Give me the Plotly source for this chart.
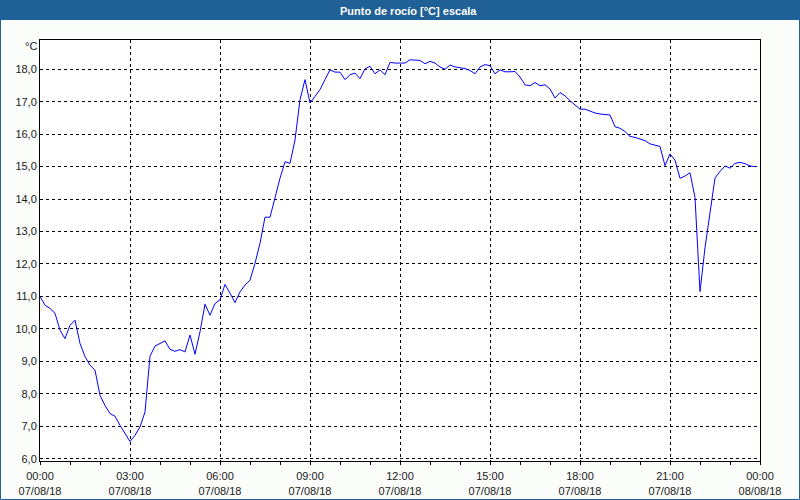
import pandas as pd
import plotly.graph_objects as go

# ---- data -------------------------------------------------------------
start_time = "2018-08-07 00:00"
sample_interval = "10min"
x_range = ["2018-08-07 00:00", "2018-08-08 00:00"]

dew_point = [
    11.00, 10.73, 10.63, 10.48, 9.96, 9.70, 10.11, 10.27, 9.55, 9.15,
    8.88, 8.73, 7.95, 7.64, 7.39, 7.31, 7.03, 6.77, 6.53, 6.72,
    6.98, 7.44, 9.16, 9.47, 9.55, 9.63, 9.37, 9.31, 9.36, 9.29,
    9.81, 9.22, 9.91, 10.76, 10.42, 10.78, 10.90, 11.37, 11.10, 10.81,
    11.14, 11.35, 11.50, 12.02, 12.64, 13.44, 13.44, 14.07, 14.64, 15.15,
    15.10, 15.82, 17.06, 17.68, 16.96, 17.16, 17.37, 17.68, 17.98, 17.91,
    17.91, 17.68, 17.83, 17.88, 17.71, 18.01, 18.09, 17.86, 17.98, 17.83,
    18.21, 18.19, 18.19, 18.19, 18.29, 18.27, 18.27, 18.17, 18.24, 18.19,
    18.07, 18.00, 18.13, 18.07, 18.04, 18.02, 17.96, 17.86, 18.07, 18.14,
    18.11, 17.86, 17.98, 17.92, 17.92, 17.93, 17.76, 17.52, 17.49, 17.59,
    17.49, 17.52, 17.39, 17.11, 17.28, 17.18, 17.03, 16.90, 16.77, 16.77,
    16.70, 16.65, 16.62, 16.60, 16.59, 16.23, 16.18, 16.08, 15.93, 15.90,
    15.85, 15.80, 15.70, 15.67, 15.62, 15.03, 15.39, 15.20, 14.64, 14.71,
    14.81, 14.05, 11.15, 12.50, 13.66, 14.65, 14.85, 15.02, 14.95, 15.10,
    15.13, 15.09, 15.02, 15.00,
]

y_ticks = [6, 7, 8, 9, 10, 11, 12, 13, 14, 15, 16, 17, 18]
title_text = "Punto de rocío [°C] escala"
unit_text = "°C"

times = pd.date_range(start_time, periods=len(dew_point), freq=sample_interval)

# ---- geometry helpers (pixel -> paper) --------------------------------
W, H = 800, 500
ML, MR, MT, MB = 40, 40, 40, 39
PW, PH = W - ML - MR, H - MT - MB


def px(xp):
    return (xp - ML) / PW


def py(yp):
    return (H - MB - yp) / PH


BLUE = "#1f6096"
FONT = "Liberation Sans"

fig = go.Figure()
fig.add_trace(go.Scatter(
    x=times, y=dew_point, mode="lines",
    line=dict(color="#0000ff", width=1),
    hoverinfo="skip", showlegend=False,
))

fig.update_layout(
    width=W, height=H, autosize=False,
    margin=dict(l=ML, r=MR, t=MT, b=MB, pad=0, autoexpand=False),
    paper_bgcolor="#fbfdfb",
    plot_bgcolor="#ffffff",
    separators=",.",
    font=dict(family=FONT, size=11, color="#1a1a1a"),
    showlegend=False,
)

fig.update_xaxes(
    type="date", range=x_range, automargin=False,
    tick0=x_range[0], dtick=3 * 3600 * 1000,
    tickformat="%H:%M<br>%d/%m/%y",
    ticks="outside", ticklen=3, tickcolor="black", tickwidth=1,
    ticklabelstandoff=2,
    minor=dict(dtick=3600 * 1000, ticks="outside", ticklen=3,
               tickcolor="black", showgrid=False),
    showgrid=True, gridcolor="black", gridwidth=1, griddash="3px,3px",
    showline=True, mirror=True, linecolor="black", linewidth=1,
    zeroline=False, tickfont=dict(family=FONT, size=11, color="#1a1a1a"),
)

fig.update_yaxes(
    range=[5.93, 18.9], tickvals=y_ticks, tickformat=".1f", automargin=False,
    ticks="", showgrid=True, gridcolor="black", gridwidth=1,
    griddash="3px,3px",
    showline=True, mirror=True, linecolor="black", linewidth=1,
    zeroline=False, tickfont=dict(family=FONT, size=11, color="#1a1a1a"),
)

# title bar
fig.add_shape(type="rect", xref="paper", yref="paper",
              x0=px(0), x1=px(W), y0=py(20), y1=py(0),
              fillcolor=BLUE, line=dict(width=0), layer="below")
# outer border
fig.add_shape(type="rect", xref="paper", yref="paper",
              x0=px(0.5), x1=px(W - 0.5), y0=py(H - 0.5), y1=py(0.5),
              fillcolor="rgba(0,0,0,0)", line=dict(color=BLUE, width=1),
              layer="above")

fig.add_annotation(text="<b>" + title_text + "</b>", xref="paper", yref="paper",
                   x=px(409), y=py(10.5), showarrow=False,
                   xanchor="center", yanchor="middle",
                   font=dict(family=FONT, size=11, color="white"))
fig.add_annotation(text=unit_text, xref="paper", yref="paper",
                   x=px(31), y=py(46), showarrow=False,
                   xanchor="center", yanchor="middle",
                   font=dict(family=FONT, size=11, color="#1a1a1a"))

fig.write_html("out.html")
